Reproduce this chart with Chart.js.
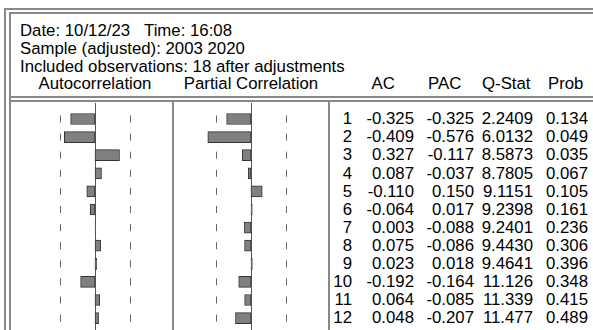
<!DOCTYPE html>
<html>
<head>
<meta charset="utf-8">
<script src="https://cdn.jsdelivr.net/npm/chart.js@4.4.0/dist/chart.umd.min.js"></script>
<style>
  html, body { margin: 0; padding: 0; background: #fff; }
  body { width: 593px; height: 330px; position: relative; overflow: hidden;
         font-family: "Liberation Sans", Arial, sans-serif; font-size: 16.8px; color: #000; }
  .t { position: absolute; line-height: 20px; white-space: pre; }
  .r { text-align: right; }
  .hl { position: absolute; height: 2px; background: #888; }
  .vl { position: absolute; width: 2px; background: #888; }
  canvas { position: absolute; }
</style>
</head>
<body>
<div class="hl" style="left:5px; top:8px; right:0;"></div>
<div class="hl" style="left:10px; top:12px; right:0;"></div>
<div class="vl" style="left:4px; top:8px; bottom:0;"></div>
<div class="vl" style="left:9px; top:12px; bottom:0;"></div>
<div class="hl" style="left:10px; top:96px; right:0;"></div>
<div class="hl" style="left:10px; top:100px; right:0;"></div>
<div class="vl" style="left:172px; top:101px; bottom:0;"></div>
<div class="vl" style="left:328px; top:101px; bottom:0;"></div>

<div class="t" style="left:20px; top:20.7px;">Date: 10/12/23</div>
<div class="t" style="left:144px; top:20.7px;">Time: 16:08</div>
<div class="t" style="left:20px; top:39.2px;">Sample (adjusted): 2003 2020</div>
<div class="t" style="left:20px; top:57.2px;">Included observations: 18 after adjustments</div>
<div class="t" style="left:20px; width:150px; top:74.2px; text-align:center;">Autocorrelation</div>
<div class="t" style="left:176px; width:150px; top:74.2px; text-align:center;">Partial Correlation</div>
<div class="t" style="left:371.5px; top:74.2px;">AC</div>
<div class="t" style="left:428px; top:74.2px;">PAC</div>
<div class="t" style="left:482px; top:74.2px;">Q-Stat</div>
<div class="t" style="left:548px; top:74.2px;">Prob</div>

<canvas id="acChart" width="150" height="227" style="left:20px; top:103px;"></canvas>
<canvas id="pacChart" width="150" height="227" style="left:176px; top:103px;"></canvas>
<div id="rows"></div>

<script>
// Correlogram data
const lags = [1, 2, 3, 4, 5, 6, 7, 8, 9, 10, 11, 12];
const acValues = [-0.325, -0.409, 0.327, 0.087, -0.110, -0.064, 0.003, 0.075, 0.023, -0.192, 0.064, 0.048];
const pacValues = [-0.325, -0.576, -0.117, -0.037, 0.150, 0.017, -0.088, -0.086, 0.018, -0.164, -0.085, -0.207];
const qStats = [2.2409, 6.0132, 8.5873, 8.7805, 9.1151, 9.2398, 9.2401, 9.4430, 9.4641, 11.126, 11.339, 11.477];
const probs = [0.134, 0.049, 0.035, 0.067, 0.105, 0.161, 0.236, 0.306, 0.396, 0.348, 0.415, 0.489];
const nObs = 18;

// Layout
const ROW_STEP = 18.1;
const FIRST_ROW_OFFSET = 16;   // px from chart top to lag 1 centre
const CHART_HEIGHT = 227;
const bandLimit = 2 / Math.sqrt(nObs);

// Zero line + dashed confidence marks
const correlogramMarks = {
    id: 'correlogramMarks',
    beforeDatasetsDraw(chart) {
        const { ctx, chartArea, scales } = chart;
        const x = scales.x, y = scales.y;
        ctx.save();
        ctx.strokeStyle = '#555';
        ctx.lineWidth = 1;
        const x0 = Math.round(x.getPixelForValue(0)) + 0.5;
        ctx.beginPath();
        ctx.moveTo(x0, chartArea.top);
        ctx.lineTo(x0, chartArea.bottom);
        ctx.stroke();
        ctx.strokeStyle = '#666';
        lags.forEach(lag => {
            const yc = y.getPixelForValue(lag);
            [-bandLimit, bandLimit].forEach(b => {
                const xb = Math.round(x.getPixelForValue(b)) + 0.5;
                ctx.beginPath();
                ctx.moveTo(xb, yc - 3.5);
                ctx.lineTo(xb, yc + 3.5);
                ctx.stroke();
            });
        });
        ctx.restore();
    }
};

function makeCorrChart(canvasId, values) {
    const ctx = document.getElementById(canvasId).getContext('2d');
    const yMin = 1 - FIRST_ROW_OFFSET / ROW_STEP;
    const yMax = yMin + CHART_HEIGHT / ROW_STEP;
    return new Chart(ctx, {
        type: 'bar',
        data: {
            datasets: [{
                data: lags.map((lag, i) => ({ x: values[i], y: lag })),
                backgroundColor: '#808080',
                borderColor: '#333333',
                borderWidth: 1,
                borderSkipped: false,
                barThickness: 11
            }]
        },
        options: {
            indexAxis: 'y',
            responsive: false,
            devicePixelRatio: 1,
            animation: false,
            layout: { padding: 0 },
            plugins: { legend: { display: false }, tooltip: { enabled: false } },
            scales: {
                x: { type: 'linear', display: false, min: -1, max: 1 },
                y: { type: 'linear', display: false, reverse: true, offset: false, min: yMin, max: yMax }
            }
        },
        plugins: [correlogramMarks]
    });
}

makeCorrChart('acChart', acValues);
makeCorrChart('pacChart', pacValues);

// Numeric table
const rowsEl = document.getElementById('rows');
const colRights = [352, 414, 474, 533, 588];
lags.forEach((lag, i) => {
    const cells = [
        String(lag),
        acValues[i].toFixed(3),
        pacValues[i].toFixed(3),
        qStats[i].toPrecision(5),
        probs[i].toFixed(3)
    ];
    cells.forEach((txt, c) => {
        const d = document.createElement('div');
        d.className = 't r';
        d.textContent = txt;
        d.style.right = (593 - colRights[c]) + 'px';
        d.style.top = (109.2 + i * ROW_STEP) + 'px';
        rowsEl.appendChild(d);
    });
});
</script>
</body>
</html>
